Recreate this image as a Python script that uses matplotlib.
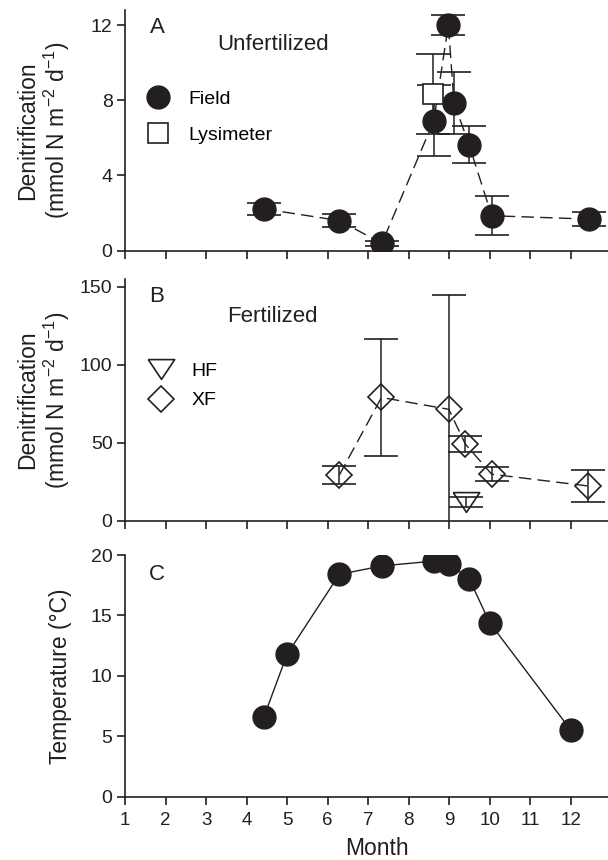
import numpy as np
import matplotlib
matplotlib.use("Agg")
import matplotlib.pyplot as plt

# ---- data ----
months = list(range(1, 13))

# A: unfertilized
field_month = [4.43, 6.29, 7.34, 8.62, 8.98, 9.12, 9.49, 10.05, 12.44]
field_den = [2.22, 1.60, 0.39, 6.91, 12.0, 7.86, 5.64, 1.86, 1.68]
field_err = [0.32, 0.35, 0.14, 1.88, 0.53, 1.65, 1.00, 1.03, 0.37]
lys_month = [8.61]
lys_den = [8.34]
lys_err = [2.12]

# B: fertilized
xf_month = [6.29, 7.33, 8.99, 9.40, 10.05, 12.42]
xf_den = [29.3, 79.0, 71.4, 49.1, 29.8, 22.3]
xf_err = [5.8, 37.5, 73.3, 5.1, 4.6, 10.3]
hf_month = [9.41]
hf_den = [12.0]
hf_err = [3.2]

# C: temperature
temp_month = [4.43, 5.0, 6.29, 7.34, 8.62, 8.99, 9.50, 10.0, 12.0]
temp = [6.62, 11.78, 18.4, 19.1, 19.5, 19.3, 18.0, 14.4, 5.52]

INK = "#231f20"
plt.rcParams["font.family"] = ["Liberation Sans", "DejaVu Sans"]
plt.rcParams["mathtext.fontset"] = "custom"
plt.rcParams["mathtext.rm"] = "Liberation Sans"
plt.rcParams["mathtext.default"] = "regular"
plt.rcParams["axes.unicode_minus"] = True

tri_down = [(-1, 0.75), (1, 0.75), (0, -0.75), (-1, 0.75)]
dash = (0, (9, 4.5))

fig = plt.figure(figsize=(6.08, 8.6), dpi=100)
left, width = 0.2056, 0.7944
axA = fig.add_axes([left, 0.7085, width, 0.2799])
axB = fig.add_axes([left, 0.3945, width, 0.2807])
axC = fig.add_axes([left, 0.0736, width, 0.2810])

eb = dict(fmt="none", ecolor=INK, elinewidth=1.1, capsize=12, capthick=1.2, zorder=2)

# ---- panel A ----
axA.plot(field_month, field_den, ls=dash, color=INK, lw=1.0, zorder=1)
axA.errorbar(field_month, field_den, yerr=field_err, **eb)
axA.errorbar(lys_month, lys_den, yerr=lys_err, **eb)
hA1, = axA.plot(field_month, field_den, ls="none", marker="o", ms=16.5,
                mfc=INK, mec=INK, label="Field", zorder=3)
hA2, = axA.plot(lys_month, lys_den, ls="none", marker="s", ms=14,
                mfc="white", mec=INK, mew=1.2, label="Lysimeter", zorder=3)
axA.set_ylim(0, 12.8)
axA.set_yticks([0, 4, 8, 12])
axA.text(0.068, 0.927, "A", transform=axA.transAxes, fontsize=16, va="center", ha="center", color=INK)
axA.text(0.307, 0.857, "Unfertilized", transform=axA.transAxes, fontsize=16, va="center", ha="center", color=INK)
axA.legend(handles=[hA1, hA2], loc="upper left", bbox_to_anchor=(0.0387, 0.665),
           frameon=False, fontsize=14, borderpad=0, handlelength=1.5,
           handletextpad=0.8, labelspacing=0.93, borderaxespad=0)

# ---- panel B ----
axB.plot(xf_month, xf_den, ls=dash, color=INK, lw=1.0, zorder=1)
axB.errorbar(xf_month, xf_den, yerr=xf_err, **eb)
axB.errorbar(hf_month, hf_den, yerr=hf_err, **eb)
hB1, = axB.plot(hf_month, hf_den, ls="none", marker=tri_down, ms=19,
                mfc="none", mec=INK, mew=1.2, label="HF", zorder=3)
hB2, = axB.plot(xf_month, xf_den, ls="none", marker="D", ms=13.5,
                mfc="none", mec=INK, mew=1.2, label="XF", zorder=3)
axB.set_ylim(0, 154.7)
axB.set_yticks([0, 50, 100, 150])
axB.text(0.066, 0.928, "B", transform=axB.transAxes, fontsize=16, va="center", ha="center", color=INK)
axB.text(0.306, 0.845, "Fertilized", transform=axB.transAxes, fontsize=16, va="center", ha="center", color=INK)
axB.legend(handles=[hB1, hB2], loc="upper left", bbox_to_anchor=(0.0443, 0.657),
           frameon=False, fontsize=14, borderpad=0, handlelength=1.5,
           handletextpad=0.8, labelspacing=0.62, borderaxespad=0)

# ---- panel C ----
axC.plot(temp_month, temp, color=INK, lw=1.0, marker="o", ms=16.5,
         mfc=INK, mec=INK)
axC.set_ylim(0, 20)
axC.set_yticks([0, 5, 10, 15, 20])
axC.text(0.066, 0.921, "C", transform=axC.transAxes, fontsize=16, va="center", ha="center", color=INK)

ylab = "Denitrification\n(mmol N m$^{\u22122}$ d$^{\u22121}$)"
for ax in (axA, axB, axC):
    ax.set_xlim(1, 12.92)
    ax.set_xticks(months)
    for s in ("top", "right"):
        ax.spines[s].set_visible(False)
    for s in ("left", "bottom"):
        ax.spines[s].set_color(INK)
        ax.spines[s].set_linewidth(1.2)
    ax.tick_params(direction="out", length=6, width=1.2, color=INK,
                   labelcolor=INK, labelsize=14)
    ax.tick_params(axis="y", pad=3)
    ax.tick_params(axis="x", pad=5)

axA.tick_params(axis="x", labelbottom=False)
axB.tick_params(axis="x", labelbottom=False)
axC.tick_params(axis="x", labelsize=13.5)

axA.set_ylabel(ylab, fontsize=16.5, color=INK, va="center", linespacing=1.1)
axA.yaxis.set_label_coords(-0.168, 0.5)
axB.set_ylabel(ylab, fontsize=16.5, color=INK, va="center", linespacing=1.1)
axB.yaxis.set_label_coords(-0.168, 0.5)
axC.set_ylabel("Temperature (\u00b0C)", fontsize=16.5, color=INK, va="center")
axC.yaxis.set_label_coords(-0.133, 0.5)
axC.set_xlabel("Month", fontsize=16.5, color=INK, va="baseline")
axC.xaxis.set_label_coords(0.521, -0.241)

fig.savefig("out.png", dpi=100)
